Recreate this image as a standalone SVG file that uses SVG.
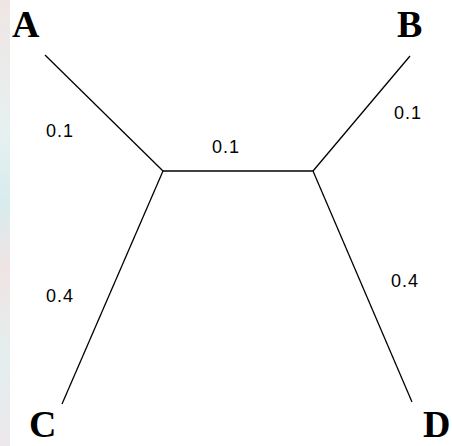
<svg xmlns="http://www.w3.org/2000/svg" width="452" height="446" viewBox="0 0 452 446">
<defs>
<linearGradient id="strip" x1="0" y1="0" x2="0" y2="1">
<stop offset="0" stop-color="#efe6e4"/>
<stop offset="0.3" stop-color="#e6f0f0"/>
<stop offset="0.45" stop-color="#d8ecee"/>
<stop offset="0.6" stop-color="#f0e4e4"/>
<stop offset="0.8" stop-color="#e4eeee"/>
<stop offset="1" stop-color="#ece8ec"/>
</linearGradient>
</defs>
<style>
.leaf{font-family:"Liberation Serif",serif;font-weight:bold;font-size:38px;fill:#000}
.w{font-family:"Liberation Sans",Arial,sans-serif;font-size:18px;fill:#000;letter-spacing:1px}
.e{stroke:#000;stroke-width:1.3;fill:none}
</style>
<rect width="452" height="446" fill="#fff"/>
<rect x="0" y="0" width="10" height="446" fill="url(#strip)"/>
<g id="edges">
<line class="e" x1="45" y1="55" x2="163" y2="171"/>
<line class="e" x1="163" y1="171" x2="313" y2="171"/>
<line class="e" x1="313" y1="171" x2="410" y2="56"/>
<line class="e" x1="163" y1="171" x2="62" y2="404"/>
<line class="e" x1="313" y1="171" x2="412" y2="402"/>
<text class="w" x="46" y="137">0.1</text>
<text class="w" x="212" y="153">0.1</text>
<text class="w" x="394" y="119">0.1</text>
<text class="w" x="46" y="302">0.4</text>
<text class="w" x="391" y="287">0.4</text>
</g>
<g id="A"><text class="leaf" x="12" y="37">A</text></g>
<g id="B"><text class="leaf" x="397" y="37">B</text></g>
<g id="C"><text class="leaf" x="29" y="437">C</text></g>
<g id="D"><text class="leaf" x="423" y="437">D</text></g>
</svg>
